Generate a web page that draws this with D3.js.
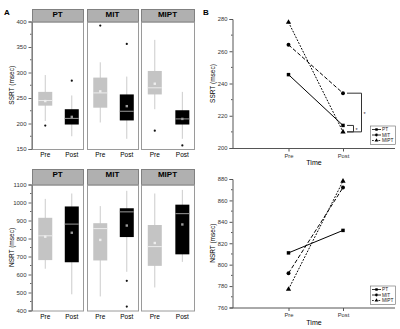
<!DOCTYPE html>
<html>
<head>
<meta charset="utf-8">
<script src="https://cdn.jsdelivr.net/npm/d3@7"></script>
<style>
  body { margin: 0; background: #fff; }
  svg { display: block; font-family: "Liberation Sans", Arial, sans-serif; }
</style>
</head>
<body>
<svg id="chart" width="400" height="329"></svg>
<script>
// groups and time points
const groups = ["PT", "MIT", "MIPT"];
const times = ["Pre", "Post"];

// box plot stats per group, [Pre, Post]: [lowWhisker, q1, median, q3, highWhisker, mean]
const ssrtBoxes = [
  [[205, 235, 245, 262, 295, 244], [175, 198, 210, 228, 255, 213]],
  [[202, 231, 260, 290, 320, 263], [170, 206, 224, 257, 292, 234]],
  [[228, 257, 270, 303, 364, 278], [170, 198, 209, 226, 262, 209]]
];
const ssrtOutliers = [[[196], [284]], [[392], [356]], [[186], [157]]];

const nsrtBoxes = [
  [[632, 680, 815, 915, 1020, 810], [490, 668, 880, 978, 1050, 832]],
  [[478, 678, 855, 885, 980, 792], [615, 808, 948, 968, 1065, 872]],
  [[528, 648, 755, 875, 1050, 775], [670, 712, 938, 988, 1070, 878]]
];
const nsrtOutliers = [[[], []], [[], [565, 422]], [[], []]];

const ssrtTicks = [150, 200, 250, 300, 350, 400];
const nsrtTicks = [400, 500, 600, 700, 800, 900, 1000, 1100];

// group means for panel B, [Pre, Post]
const ssrtMeans = [[245.5, 214], [264, 234], [278, 210]];
const nsrtMeans = [[811, 832], [792, 872], [777, 878]];
const ssrtLineTicks = [200, 220, 240, 260, 280];
const nsrtLineTicks = [760, 780, 800, 820, 840, 860, 880];

// significance brackets on SSRT post: [fromValue, toValue, label]
const brackets = [[234, 210, "*"], [214, 210, "*"]];

const svg = d3.select("#chart");

// panel letters
svg.append("text").attr("x", 4).attr("y", 15).attr("font-size", 8).attr("font-weight", "bold").text("A");
svg.append("text").attr("x", 203).attr("y", 15).attr("font-size", 8).attr("font-weight", "bold").text("B");

const panelX = [[32, 83], [87, 138], [141, 194]];

function drawBoxPanel(boxes, outliers, domain, ticks, minorStep, yRange, headTop, label) {
  const y = d3.scaleLinear().domain(domain).range(yRange);
  const ptop = yRange[1], bottom = yRange[0];

  groups.forEach((grp, gi) => {
    const [x0, x1] = panelX[gi];
    const x = d3.scalePoint().domain(times).range([x0 + (x1 - x0) * 0.26, x0 + (x1 - x0) * 0.78]);
    const bw = 14;

    // header strip
    svg.append("rect").attr("x", x0 + 0.5).attr("y", headTop + 0.5)
      .attr("width", x1 - x0).attr("height", ptop - headTop)
      .attr("fill", "#b0b0b0").attr("stroke", "#808080");
    svg.append("text").attr("x", (x0 + x1) / 2).attr("y", headTop + 8)
      .attr("text-anchor", "middle").attr("font-size", 8).attr("font-weight", "bold").text(grp);

    // frame
    svg.append("rect").attr("x", x0 + 0.5).attr("y", ptop + 0.5)
      .attr("width", x1 - x0).attr("height", bottom - ptop)
      .attr("fill", "none").attr("stroke", "#9a9a9a");

    times.forEach((t, ti) => {
      const [lo, q1, med, q3, hi, mean] = boxes[gi][ti];
      const cx = x(t);
      const pre = ti === 0;
      svg.append("line").attr("x1", cx).attr("x2", cx).attr("y1", y(lo)).attr("y2", y(hi))
        .attr("stroke", "#cccccc").attr("stroke-width", 1);
      svg.append("rect").attr("x", cx - bw / 2).attr("y", y(q3))
        .attr("width", bw).attr("height", y(q1) - y(q3))
        .attr("fill", pre ? "#c4c4c4" : "#000");
      svg.append("line").attr("x1", cx - bw / 2).attr("x2", cx + bw / 2)
        .attr("y1", y(med)).attr("y2", y(med))
        .attr("stroke", pre ? "#ececec" : "#9a9a9a").attr("stroke-width", 1);
      svg.append("rect").attr("x", cx - 1.2).attr("y", y(mean) - 1.2)
        .attr("width", 2.4).attr("height", 2.4)
        .attr("fill", pre ? "#eeeeee" : "#9a9a9a");
      outliers[gi][ti].forEach(v => {
        svg.append("circle").attr("cx", cx).attr("cy", y(v)).attr("r", 1.1).attr("fill", "#111");
      });
      svg.append("text").attr("x", cx).attr("y", bottom + 8)
        .attr("text-anchor", "middle").attr("font-size", 6.5).attr("fill", "#000").text(t);
    });
  });

  // y axis
  const ax = svg.append("g").attr("transform", "translate(31.5,0)")
    .call(d3.axisLeft(y).tickValues(ticks).tickFormat(d3.format("d")).tickSize(3).tickPadding(2));
  ax.select(".domain").attr("stroke", "#666");
  ax.selectAll(".tick line").attr("stroke", "#666");
  ax.selectAll("text").attr("font-size", 6).attr("fill", "#333").attr("font-family", "Liberation Sans, Arial");
  const minor = d3.range(domain[0], domain[1] + 0.001, minorStep).filter(v => !ticks.includes(v));
  svg.selectAll(null).data(minor).join("line")
    .attr("x1", 30).attr("x2", 31.5).attr("y1", d => y(d)).attr("y2", d => y(d))
    .attr("stroke", "#666");

  svg.append("text").attr("transform", `translate(14,${(ptop + bottom) / 2}) rotate(-90)`)
    .attr("text-anchor", "middle").attr("font-size", 6.5).attr("fill", "#000").text(label);
}

drawBoxPanel(ssrtBoxes, ssrtOutliers, [150, 400], ssrtTicks, 25, [149, 21.5], 9, "SSRT (msec)");
drawBoxPanel(nsrtBoxes, nsrtOutliers, [400, 1100], nsrtTicks, 50, [310.5, 184.5], 169, "NSRT (msec)");

// panel B line charts
const styles = [
  { dash: null, marker: d3.symbolSquare },
  { dash: "4,2", marker: d3.symbolCircle },
  { dash: "1.8,1.4", marker: d3.symbolTriangle }
];

function drawLinePanel(means, domain, ticks, yRange, label, legendTop) {
  const y = d3.scaleLinear().domain(domain).range(yRange);
  const x = d3.scalePoint().domain(times).range([288.5, 343]);
  const bottom = yRange[0];

  // axes
  const ay = svg.append("g").attr("transform", "translate(232.5,0)")
    .call(d3.axisLeft(y).tickValues(ticks).tickSize(3).tickPadding(2));
  const step = ticks[1] - ticks[0];
  svg.selectAll(null).data(ticks.slice(0, -1).map(v => v + step / 2)).join("line")
    .attr("x1", 231).attr("x2", 232.5).attr("y1", d => y(d)).attr("y2", d => y(d)).attr("stroke", "#555");
  svg.append("line").attr("x1", 232.5).attr("x2", 395).attr("y1", bottom + 0.5).attr("y2", bottom + 0.5)
    .attr("stroke", "#555");
  const ax = svg.append("g").attr("transform", `translate(0,${bottom + 0.5})`)
    .call(d3.axisBottom(x).tickSize(3).tickPadding(2));
  ax.select(".domain").remove();
  [ay, ax].forEach(a => {
    a.select(".domain").attr("stroke", "#555");
    a.selectAll(".tick line").attr("stroke", "#555");
    a.selectAll("text").attr("font-size", 5.8).attr("fill", "#333").attr("font-family", "Liberation Sans, Arial");
  });

  svg.append("text").attr("x", 314).attr("y", bottom + 17)
    .attr("text-anchor", "middle").attr("font-size", 7).attr("fill", "#000").text("Time");
  svg.append("text").attr("transform", `translate(215,${(yRange[0] + yRange[1]) / 2}) rotate(-90)`)
    .attr("text-anchor", "middle").attr("font-size", 6.5).attr("fill", "#000").text(label);

  const line = d3.line().x((d, i) => x(times[i])).y(d => y(d));
  means.forEach((m, gi) => {
    svg.append("path").attr("d", line(m)).attr("fill", "none").attr("stroke", "#000")
      .attr("stroke-width", 1).attr("stroke-dasharray", styles[gi].dash);
    m.forEach((v, i) => {
      svg.append("path").attr("d", d3.symbol(styles[gi].marker, 12)())
        .attr("transform", `translate(${x(times[i])},${y(v)})`).attr("fill", "#000");
    });
  });

  // legend
  svg.append("rect").attr("x", 370.5).attr("y", legendTop + 0.5).attr("width", 25).attr("height", 18.5)
    .attr("fill", "#fff").attr("stroke", "#666").attr("stroke-width", 0.6);
  groups.forEach((g, gi) => {
    const ly = legendTop + 4 + gi * 5.5;
    svg.append("line").attr("x1", 372).attr("x2", 381).attr("y1", ly).attr("y2", ly)
      .attr("stroke", "#000").attr("stroke-width", 0.8).attr("stroke-dasharray", styles[gi].dash);
    svg.append("path").attr("d", d3.symbol(styles[gi].marker, 6)())
      .attr("transform", `translate(376.5,${ly})`).attr("fill", "#000");
    svg.append("text").attr("x", 382).attr("y", ly + 1.8).attr("font-size", 4.8).attr("fill", "#222").text(g);
  });
  return { x, y };
}

const ssrtPanel = drawLinePanel(ssrtMeans, [200, 280], ssrtLineTicks, [148, 19], "SSRT (msec)", 125.5);
drawLinePanel(nsrtMeans, [760, 880], nsrtLineTicks, [307.5, 179], "NSRT (msec)", 285.5);

// significance brackets
const bx = ssrtPanel.x("Post");
brackets.forEach(([a, b, s], i) => {
  const right = bx + (i === 0 ? 18.5 : 10.5);
  const yb = ssrtPanel.y(b);
  svg.append("path")
    .attr("d", `M${bx + 4},${ssrtPanel.y(a)}H${right}V${yb}H${bx + 4}`)
    .attr("fill", "none").attr("stroke", "#333").attr("stroke-width", 1);
  svg.append("text").attr("x", right + 2).attr("y", (ssrtPanel.y(a) + yb) / 2 + 3)
    .attr("font-size", 5.5).attr("fill", "#333").text(s);
});
</script>
</body>
</html>
